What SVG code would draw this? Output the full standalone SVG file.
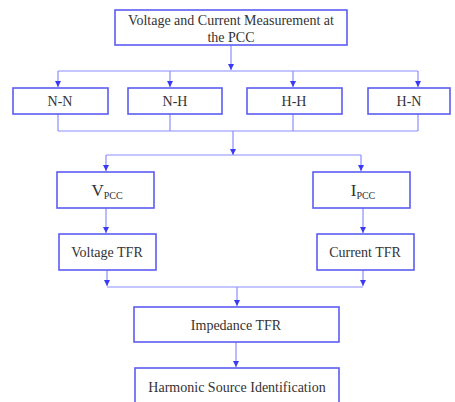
<svg xmlns="http://www.w3.org/2000/svg" width="455" height="402" viewBox="0 0 455 402">
<defs>
<marker id="ah" viewBox="0 0 10 10" refX="10" refY="5" markerWidth="6" markerHeight="6" markerUnits="userSpaceOnUse" orient="auto">
<path d="M0,0 L10,5 L0,10 z" fill="#3a3af5"/>
</marker>
<style>
.box{fill:#fff;stroke:#5c5cf5;stroke-width:1.6}
.ln{fill:none;stroke:#8c8cff;stroke-width:1.2}
.arr{fill:none;stroke:#8c8cff;stroke-width:1.2;marker-end:url(#ah)}
.t{font-family:'Liberation Serif','DejaVu Serif',serif;font-size:14px;fill:#333;text-anchor:middle}
</style>
</defs>
<rect width="455" height="402" fill="#fff"/>
<g id="connectors">
<path class="arr" d="M231,45 V70"/>
<path class="ln" d="M58,71 H418"/>
<path class="arr" d="M58,71 V87"/>
<path class="arr" d="M170,71 V87"/>
<path class="arr" d="M293,71 V87"/>
<path class="arr" d="M418,71 V87"/>
<path class="ln" d="M58,114 V131 M170,114 V131 M293,114 V131 M418,114 V131 M58,131 H418"/>
<path class="arr" d="M233,131 V155"/>
<path class="ln" d="M106,155 H361"/>
<path class="arr" d="M106,155 V171"/>
<path class="arr" d="M361,155 V171"/>
<path class="arr" d="M106,208 V233"/>
<path class="arr" d="M363,208 V233"/>
<path class="arr" d="M107,270 V286"/>
<path class="arr" d="M363,270 V286"/>
<path class="ln" d="M107,287 H363"/>
<path class="arr" d="M237,287 V306"/>
<path class="arr" d="M236,342 V367"/>
</g>
<g id="n-top"><rect class="box" x="115" y="10" width="232" height="35"/><text class="t" font-family="Liberation Serif, serif" x="231" y="25">Voltage and Current Measurement at</text><text class="t" x="231" y="42">the PCC</text></g>
<g id="n-nn"><rect class="box" x="13" y="88" width="95" height="26"/><text class="t" x="60" y="106">N-N</text></g>
<g id="n-nh"><rect class="box" x="128" y="88" width="94" height="26"/><text class="t" x="175" y="106">N-H</text></g>
<g id="n-hh"><rect class="box" x="247" y="88" width="95" height="26"/><text class="t" x="294" y="106">H-H</text></g>
<g id="n-hn"><rect class="box" x="368" y="88" width="82" height="26"/><text class="t" x="409" y="106">H-N</text></g>
<g id="n-vpcc"><rect class="box" x="57" y="172" width="97" height="36"/><text class="t" x="107" y="196"><tspan font-size="17">V</tspan><tspan font-size="10" dy="3">PCC</tspan></text></g>
<g id="n-ipcc"><rect class="box" x="313" y="172" width="97" height="36"/><text class="t" x="363" y="196"><tspan font-size="17">I</tspan><tspan font-size="10" dy="3">PCC</tspan></text></g>
<g id="n-vtfr"><rect class="box" x="59" y="234" width="97" height="36"/><text class="t" x="107" y="257">Voltage TFR</text></g>
<g id="n-ctfr"><rect class="box" x="317" y="234" width="97" height="36"/><text class="t" x="365" y="257">Current TFR</text></g>
<g id="n-imp"><rect class="box" x="134" y="307" width="205" height="35"/><text class="t" x="236" y="330">Impedance TFR</text></g>
<g id="n-hsi"><rect class="box" x="135" y="368" width="204" height="40"/><text class="t" x="237" y="392">Harmonic Source Identification</text></g>
</svg>
